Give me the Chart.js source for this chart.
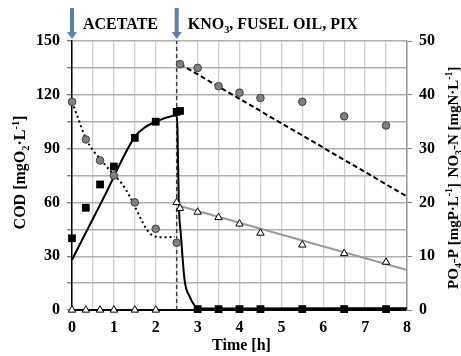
<!DOCTYPE html>
<html>
<head>
<meta charset="utf-8">
<script src="https://cdn.jsdelivr.net/npm/chart.js@4.4.0/dist/chart.umd.min.js"></script>
<style>
  html, body { margin: 0; padding: 0; background: #fff; }
  #wrap { width: 461px; height: 356px; }
</style>
</head>
<body>
<div id="wrap"><canvas id="c" width="461" height="356"></canvas></div>
<script>
// Sampling times [h]: acetate phase, then after KNO3 / fusel oil / PIX dosing
const timesPhase1 = [0, 0.33, 0.67, 1, 1.5, 2, 2.5];
const timesPhase2 = [2.58, 3, 3.5, 4, 4.5, 5.5, 6.5, 7.5];

// COD [mgO2/L] (left axis)
const codPhase1 = [40, 57, 70, 80, 96, 105, 110.5];
const codPhase2 = [111, 0.5, 0.5, 0.5, 0.5, 0.5, 0.5, 0.5];

// NO3-N [mgN/L] (right axis)
const no3Phase1 = [38.7, 31.7, 27.8, 25, 20, 15.1, 12.5];
const no3Phase2 = [45.7, 45, 41.6, 40.4, 39.4, 38.7, 36, 34.3];

// PO4-P [mgP/L] (right axis)
const po4Phase1 = [0, 0, 0, 0, 0, 0, 20];
const po4Phase2 = [18.9, 18.2, 17.2, 16, 14.3, 12.1, 10.5, 8.9];

// Fitted COD curve
const codFitT = [0, 0.75, 1.5, 1.75, 2, 2.5, 2.52, 2.55, 2.6, 2.69, 2.81, 2.93, 3.05, 3.4, 8];
const codFitV = [28, 62.3, 96.5, 102, 105, 108.5, 100, 60, 42, 16.5, 7.4, 2.4, 1, 0.8, 1];

// Fitted NO3-N curve, acetate phase
const no3FitT = [0, 0.1, 0.33, 0.5, 0.69, 1, 1.18, 1.38, 1.54, 1.7, 1.82, 1.94, 2.18, 2.46];
const no3FitV = [38.7, 36.6, 31.9, 29.7, 27.9, 25.1, 23.6, 21.1, 18.6, 16.1, 14.6, 13.8, 13.5, 13.6];

// Linear trends after dosing
const no3TrendT = [2.58, 8];
const no3TrendV = [45.7, 21.1];
const po4TrendT = [2.58, 8];
const po4TrendV = [19.33, 7.43];

// Dosing moments [h]
const doseTimes = [0, 2.5];
const doseLabels = ['ACETATE', 'KNO3, FUSEL OIL, PIX'];

// Axis ranges
const codRange = [0, 150];
const rightRange = [0, 50];
const timeRange = [0, 8];

const pts = (xs, ys) => xs.map((x, i) => ({ x: x, y: ys[i] }));

const FONT = '"Liberation Serif", "Times New Roman", serif';

// Text with sub/superscripts: parts = [{t, sub|sup}]
function richWidth(ctx, parts, size) {
  let w = 0;
  for (const p of parts) {
    const s = (p.sub || p.sup) ? size * 0.65 : size;
    ctx.font = 'bold ' + s + 'px ' + FONT;
    w += ctx.measureText(p.t).width;
  }
  return w;
}
function drawRich(ctx, parts, x, y, size, align, rot) {
  ctx.save();
  ctx.translate(x, y);
  if (rot) ctx.rotate(rot);
  const total = richWidth(ctx, parts, size);
  let cx = align === 'center' ? -total / 2 : 0;
  ctx.fillStyle = '#000';
  ctx.textBaseline = 'alphabetic';
  ctx.textAlign = 'left';
  for (const p of parts) {
    const s = (p.sub || p.sup) ? size * 0.65 : size;
    ctx.font = 'bold ' + s + 'px ' + FONT;
    const dy = p.sub ? size * 0.25 : (p.sup ? -size * 0.4 : 0);
    ctx.fillText(p.t, cx, dy);
    cx += ctx.measureText(p.t).width;
  }
  ctx.restore();
}

function splitChem(str) {
  // subscript the digit following "O" (KNO3)
  const m = str.match(/^(.*?O)(\d)(.*)$/);
  return m ? [{ t: m[1] }, { t: m[2], sub: 1 }, { t: m[3] }] : [{ t: str }];
}

const annotations = {
  id: 'annotations',
  afterDraw(chart) {
    const { ctx, chartArea: a, scales: { x } } = chart;
    // dosing arrows and labels
    doseTimes.forEach((t, i) => {
      const px = x.getPixelForValue(t);
      ctx.save();
      ctx.fillStyle = '#5f82aa';
      ctx.fillRect(px - 2, a.top - 33, 4, 25);
      ctx.beginPath();
      ctx.moveTo(px - 5, a.top - 9);
      ctx.lineTo(px + 5, a.top - 9);
      ctx.lineTo(px, a.top - 2);
      ctx.closePath();
      ctx.fill();
      ctx.restore();
      drawRich(ctx, splitChem(doseLabels[i]), px + 11, a.top - 12, 16, 'left', 0);
    });
    // axis titles
    const midY = (a.top + a.bottom) / 2;
    drawRich(ctx, [{ t: 'COD [mgO' }, { t: '2', sub: 1 }, { t: '·L' }, { t: '-1', sup: 1 }, { t: ']' }],
      25, midY - 3, 16, 'center', -Math.PI / 2);
    drawRich(ctx, [{ t: 'NO' }, { t: '3', sub: 1 }, { t: '-N [mgN·L' }, { t: '-1', sup: 1 }, { t: ']' }],
      458, 122, 15, 'center', -Math.PI / 2);
    drawRich(ctx, [{ t: 'PO' }, { t: '4', sub: 1 }, { t: '-P [mgP·L' }, { t: '-1', sup: 1 }, { t: ']' }],
      458, 236, 15, 'center', -Math.PI / 2);
    drawRich(ctx, [{ t: 'Time [h]' }], (a.left + a.right) / 2 + 2, 350, 16, 'center', 0);
  }
};

const tickFont = { family: FONT, size: 16, weight: 'bold' };

new Chart(document.getElementById('c'), {
  type: 'line',
  data: {
    datasets: [
      { label: 'COD', yAxisID: 'y', data: [...pts(timesPhase1, codPhase1), ...pts(timesPhase2, codPhase2)],
        showLine: false, pointStyle: 'rect', pointRadius: 5.5, pointBackgroundColor: '#000', pointBorderColor: '#000', pointBorderWidth: 0, clip: false },
      { label: 'NO3-N', yAxisID: 'y1', data: [...pts(timesPhase1, no3Phase1), ...pts(timesPhase2, no3Phase2)],
        showLine: false, pointStyle: 'circle', pointRadius: 3.8, pointBackgroundColor: '#808080', pointBorderColor: '#404040', pointBorderWidth: 1, clip: false },
      { label: 'PO4-P', yAxisID: 'y1', data: [...pts(timesPhase1, po4Phase1), ...pts(timesPhase2, po4Phase2)],
        showLine: false, pointStyle: 'triangle', pointRadius: 4.3, pointBackgroundColor: '#fff', pointBorderColor: '#000', pointBorderWidth: 1, clip: false },
      { label: 'COD fit', yAxisID: 'y', data: pts(codFitT, codFitV), cubicInterpolationMode: 'monotone',
        borderColor: '#000', borderWidth: 2, pointRadius: 0, fill: false, clip: false },
      { label: 'NO3-N fit', yAxisID: 'y1', data: pts(no3FitT, no3FitV), cubicInterpolationMode: 'monotone',
        borderColor: '#000', borderWidth: 2, borderDash: [2, 3], pointRadius: 0, fill: false, clip: false },
      { label: 'NO3-N trend', yAxisID: 'y1', data: pts(no3TrendT, no3TrendV),
        borderColor: '#000', borderWidth: 2, borderDash: [5, 3], pointRadius: 0, fill: false, clip: false },
      { label: 'PO4-P trend', yAxisID: 'y1', data: pts(po4TrendT, po4TrendV),
        borderColor: '#9a9a9a', borderWidth: 2, pointRadius: 0, fill: false, clip: false },
      { label: 'dosing', yAxisID: 'y', data: pts([doseTimes[1], doseTimes[1]], codRange),
        borderColor: '#404040', borderWidth: 1.5, borderDash: [4, 3], pointRadius: 0, fill: false, clip: false }
    ]
  },
  options: {
    responsive: false,
    animation: false,
    devicePixelRatio: 1,
    layout: { padding: { top: 41, left: 0, right: 0, bottom: 0 } },
    plugins: { legend: { display: false }, tooltip: { enabled: false } },
    scales: {
      x: {
        type: 'linear', min: timeRange[0], max: timeRange[1],
        ticks: { stepSize: 0.5, color: '#000', font: tickFont, padding: 8, maxRotation: 0,
          callback: v => Number.isInteger(v) ? String(v) : '' },
        grid: { color: '#cfcfcf', lineWidth: 1.3, drawTicks: false },
        border: { color: '#000', width: 2 },
        afterFit: s => { s.height = 46; }
      },
      y: {
        position: 'left', min: codRange[0], max: codRange[1],
        ticks: { stepSize: 15, color: '#000', font: tickFont, padding: 7,
          callback: v => v % 30 === 0 ? String(v) : '' },
        grid: { color: '#b0b0b0', lineWidth: 1.4, tickLength: 5, tickColor: '#808080' },
        border: { color: '#000', width: 1.5 },
        afterFit: s => { s.width = 72; }
      },
      y1: {
        position: 'right', min: rightRange[0], max: rightRange[1],
        ticks: { stepSize: 10, color: '#000', font: tickFont, padding: 7 },
        grid: { drawOnChartArea: false, tickLength: 5, color: '#808080' },
        border: { color: '#9a9a9a', width: 1.5 },
        afterFit: s => { s.width = 54; }
      }
    }
  },
  plugins: [annotations]
});
</script>
</body>
</html>
